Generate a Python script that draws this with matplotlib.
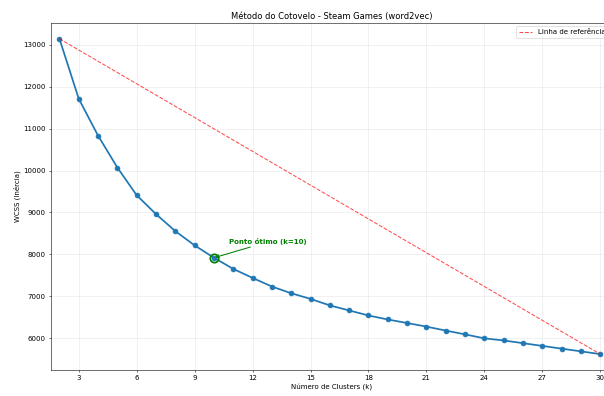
import numpy as np
import matplotlib
matplotlib.use("Agg")
import matplotlib.pyplot as plt

#%% dados
k_values = list(range(2, 31))
wcss = [13140, 11710, 10830, 10070, 9410, 8960, 8555, 8215, 7921, 7655,
        7440, 7235, 7075, 6940, 6785, 6665, 6545, 6450, 6365, 6280,
        6185, 6095, 6000, 5950, 5885, 5820, 5755, 5690, 5625]
k_otimo = 10

#%% plot
fig = plt.figure(figsize=(12.08, 7.92), dpi=50)
ax = fig.add_axes([0.084, 0.066, 0.929, 0.876])

ax.plot(k_values, wcss, 'o-', color='#1f77b4', linewidth=2.5, markersize=7)
ax.plot([k_values[0], k_values[-1]], [wcss[0], wcss[-1]], 'r--', alpha=0.7,
        linewidth=1.5, label='Linha de referência')

y_otimo = wcss[k_values.index(k_otimo)]
ax.plot(k_otimo, y_otimo, 'o', color='green', markersize=12,
        markerfacecolor='none', markeredgewidth=2.5)
ax.annotate(f'Ponto ótimo (k={k_otimo})', xy=(k_otimo, y_otimo),
            xytext=(k_otimo + 0.8, y_otimo + 320),
            color='green', fontsize=10, fontweight='bold',
            arrowprops=dict(arrowstyle='->', color='green', lw=1.5))

ax.set_xlim(1.55, 30.6)
ax.set_xticks(range(3, 31, 3))
ax.set_xlabel('Número de Clusters (k)', fontsize=10)
ax.set_ylabel('WCSS (Inércia)', fontsize=10)
ax.set_title('Método do Cotovelo - Steam Games (word2vec)', fontsize=12)
ax.tick_params(labelsize=10)
ax.grid(True, alpha=0.3)
ax.legend(loc='upper right', fontsize=10)

fig.savefig('out.png', dpi=50)
